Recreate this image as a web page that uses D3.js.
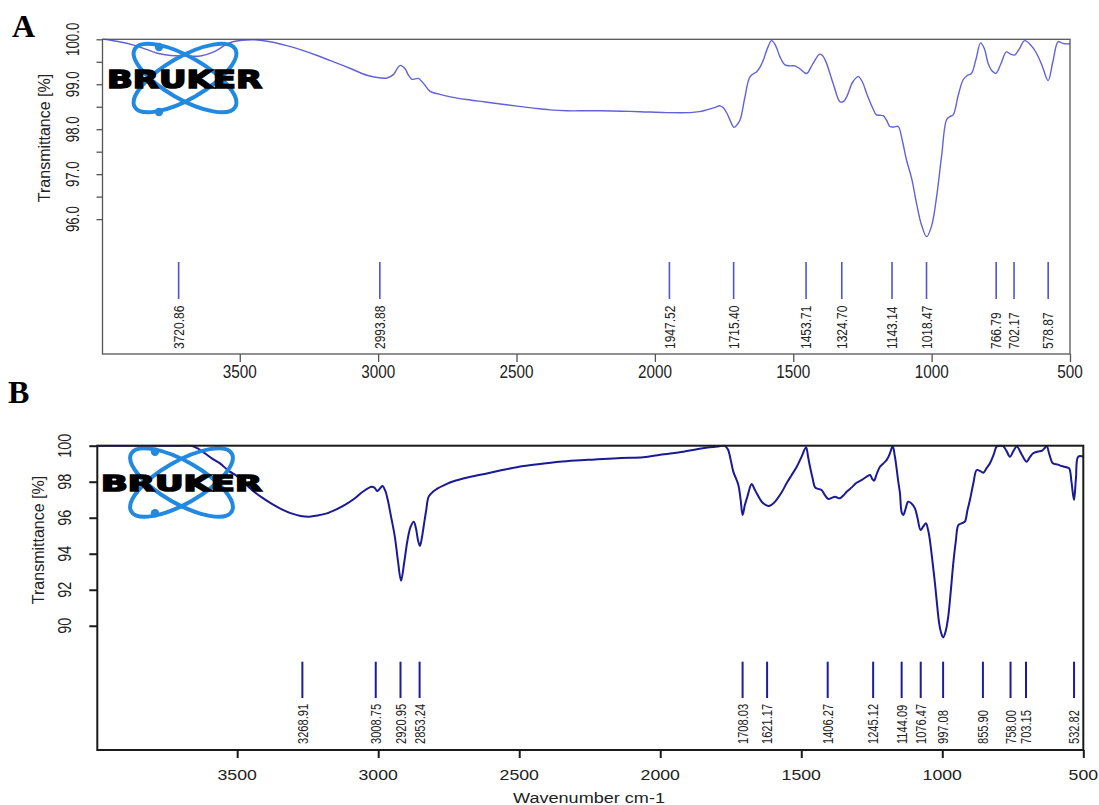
<!DOCTYPE html>
<html>
<head>
<meta charset="utf-8">
<script src="https://cdn.jsdelivr.net/npm/d3@7"></script>
<style>
  html, body { margin: 0; padding: 0; background: #fff; }
  svg { display: block; font-family: "Liberation Sans", Arial, sans-serif; }
</style>
</head>
<body>
<svg id="chart" width="1099" height="805"></svg>
<script>
// FTIR spectrum A: [wavenumber cm-1, transmittance %]
const spectrumA = [
  [3996,100.0],[3991,100.0],[3940,99.95],[3883,99.87],[3840,99.78],[3798,99.69],[3750,99.64],[3702,99.63],
  [3642,99.63],[3594,99.72],[3550,99.88],[3522,99.95],[3449,99.99],[3377,99.93],[3330,99.86],[3281,99.77],
  [3220,99.64],[3161,99.50],[3100,99.35],[3040,99.20],[2990,99.14],[2968,99.14],[2944,99.22],[2930,99.36],
  [2920,99.42],[2910,99.39],[2902,99.34],[2890,99.20],[2878,99.11],[2866,99.12],[2854,99.13],[2844,99.07],
  [2836,99.02],[2812,98.84],[2780,98.78],[2739,98.72],[2680,98.66],[2619,98.61],[2530,98.54],[2439,98.47],
  [2380,98.43],[2318,98.41],[2250,98.41],[2198,98.41],[2120,98.40],[2053,98.39],[1960,98.37],[1873,98.37],
  [1840,98.39],[1813,98.43],[1785,98.48],[1765,98.52],[1752,98.47],[1740,98.36],[1727,98.18],[1714,98.04],
  [1703,98.10],[1692,98.21],[1675,98.70],[1656,99.17],[1632,99.28],[1620,99.38],[1608,99.54],[1592,99.82],
  [1578,99.97],[1563,99.85],[1548,99.61],[1530,99.43],[1510,99.41],[1494,99.41],[1475,99.34],[1452,99.24],
  [1430,99.45],[1404,99.67],[1392,99.62],[1380,99.47],[1355,99.00],[1331,98.61],[1318,98.62],[1307,98.72],
  [1285,99.05],[1265,99.17],[1250,99.05],[1235,98.80],[1215,98.50],[1199,98.32],[1187,98.31],[1175,98.30],
  [1163,98.20],[1151,98.06],[1136,98.05],[1121,98.06],[1106,97.75],[1091,97.32],[1072,96.90],[1055,96.36],
  [1037,95.88],[1018,95.61],[1000,95.85],[982,96.50],[964,97.40],[946,98.21],[934,98.28],[922,98.32],
  [904,98.75],[886,99.10],[870,99.20],[856,99.24],[840,99.55],[823,99.92],[810,99.80],[796,99.47],
  [782,99.30],[768,99.24],[750,99.45],[730,99.72],[715,99.67],[700,99.65],[682,99.80],[664,99.97],
  [643,99.88],[621,99.69],[600,99.40],[579,99.08],[562,99.50],[543,99.95],[530,99.92],[519,99.90],[500,99.90]
];

// FTIR spectrum B: [wavenumber cm-1, transmittance %]
const spectrumB = [
  [3996,100],[3900,100],[3800,100],[3700,100],[3663,100],[3640,99.85],[3625,99.70],[3590,99.30],
  [3561,99.02],[3530,98.60],[3498,98.28],[3448,97.54],[3410,97.10],[3371,96.71],[3340,96.45],[3308,96.24],
  [3275,96.10],[3245,96.06],[3215,96.12],[3182,96.24],[3150,96.45],[3118,96.71],[3085,97.05],[3055,97.44],
  [3023,97.72],[3012,97.65],[3004,97.48],[2995,97.60],[2985,97.76],[2975,97.50],[2966,96.98],[2955,96.10],
  [2941,94.94],[2930,93.60],[2919,92.50],[2908,93.50],[2896,94.76],[2885,95.50],[2874,95.78],[2866,95.40],
  [2859,94.76],[2852,94.43],[2845,94.90],[2839,95.50],[2830,96.40],[2821,97.17],[2805,97.45],[2789,97.63],
  [2760,97.85],[2738,98.00],[2680,98.25],[2611,98.47],[2550,98.68],[2485,98.87],[2420,99.00],[2358,99.11],
  [2300,99.18],[2232,99.24],[2140,99.32],[2060,99.36],[2000,99.50],[1918,99.67],[1870,99.80],[1824,99.91],
  [1790,99.97],[1771,100],[1765,99.90],[1759,99.76],[1750,99.20],[1741,98.56],[1723,97.82],[1715,97.00],
  [1708,96.15],[1700,96.70],[1691,97.17],[1676,97.87],[1666,97.60],[1658,97.36],[1645,97.00],[1635,96.80],
  [1617,96.65],[1605,96.72],[1593,96.89],[1570,97.40],[1552,97.91],[1535,98.35],[1516,98.83],[1500,99.35],
  [1483,99.91],[1476,99.40],[1469,98.83],[1460,98.20],[1451,97.69],[1440,97.60],[1428,97.54],[1416,97.25],
  [1404,97.04],[1392,97.10],[1380,97.17],[1370,97.10],[1363,97.08],[1350,97.25],[1339,97.44],[1320,97.70],
  [1304,97.94],[1285,98.10],[1268,98.28],[1256,98.37],[1248,98.15],[1242,98.06],[1232,98.45],[1221,98.83],
  [1210,99.00],[1197,99.21],[1185,99.60],[1176,99.98],[1168,99.40],[1162,98.74],[1156,98.00],[1150,97.36],
  [1144,96.30],[1138,96.15],[1130,96.50],[1121,96.89],[1110,96.80],[1097,96.52],[1088,96.00],[1077,95.32],
  [1068,95.50],[1058,95.69],[1050,95.30],[1044,94.76],[1035,93.60],[1026,92.36],[1018,91.10],[1011,90.13],
  [1004,89.60],[997,89.35],[988,89.70],[979,90.50],[970,91.90],[961,93.47],[952,94.70],[943,95.59],
  [930,95.70],[920,95.78],[911,96.40],[902,96.98],[890,97.90],[878,98.65],[866,98.60],[855,98.50],
  [843,98.75],[831,99.02],[818,99.50],[807,99.95],[795,100],[784,99.98],[772,99.70],[760,99.39],
  [748,99.70],[736,99.95],[718,99.50],[701,99.11],[690,99.35],[678,99.58],[660,99.68],[647,99.72],
  [638,99.85],[630,99.98],[620,99.50],[608,99.02],[590,98.95],[577,98.87],[560,98.80],[550,98.74],
  [542,98.00],[533,96.98],[526,98.20],[518,99.39],[500,99.40]
];

// Picked peak positions (cm-1)
const peaksA = [3720.86, 2993.88, 1947.52, 1715.40, 1453.71, 1324.70, 1143.14, 1018.47, 766.79, 702.17, 578.87];
const peaksB = [3268.91, 3008.75, 2920.95, 2853.24, 1708.03, 1621.17, 1406.27, 1245.12, 1144.09, 1076.47, 997.08, 855.90, 758.00, 703.15, 532.82];

// Axis ticks
const xTicks = [3500, 3000, 2500, 2000, 1500, 1000, 500];
const yTicksA = [96.0, 96.5, 97.0, 97.5, 98.0, 98.5, 99.0, 99.5, 100.0];
const yLabelsA = [96.0, 97.0, 98.0, 99.0, 100.0];
const yTicksB = [90, 92, 94, 96, 98, 100];

const svg = d3.select("#chart");

function drawLogo(g, cx, cy, textLeft, textWidth, textBase, fontSize, dot1, dot2) {
  const blue = "#2189e0";
  [30, -30].forEach(a => {
    g.append("ellipse")
      .attr("cx", cx).attr("cy", cy).attr("rx", 58).attr("ry", 21)
      .attr("transform", `rotate(${a},${cx},${cy})`)
      .attr("fill", "none").attr("stroke", blue).attr("stroke-width", 4);
  });
  [dot1, dot2].forEach(d => {
    g.append("circle").attr("cx", d[0]).attr("cy", d[1]).attr("r", 4.2).attr("fill", blue);
  });
  g.append("text")
    .attr("x", textLeft).attr("y", textBase)
    .attr("textLength", textWidth).attr("lengthAdjust", "spacingAndGlyphs")
    .style("font-family", "'DejaVu Sans', sans-serif")
    .style("font-weight", "bold")
    .style("font-size", fontSize + "px")
    .attr("fill", "#000").attr("stroke", "#000").attr("stroke-width", 1.6)
    .text("BRUKER");
}

function drawPanel(cfg) {
  const g = svg.append("g");
  const x = d3.scaleLinear().domain([3996, 500]).range([cfg.left, cfg.right]);
  const y = d3.scaleLinear().domain(cfg.yDomain).range([cfg.bottom, cfg.top]);

  const clipId = "clip-" + cfg.name;
  svg.append("clipPath").attr("id", clipId)
    .append("rect").attr("x", cfg.left).attr("y", cfg.top - 1)
    .attr("width", cfg.right - cfg.left).attr("height", cfg.bottom - cfg.top + 1);

  // Spectrum trace
  const line = d3.line()
    .x(d => x(d[0])).y(d => y(d[1]))
    .curve(d3.curveCatmullRom.alpha(0.5));
  g.append("path")
    .datum(cfg.spectrum)
    .attr("clip-path", `url(#${clipId})`)
    .attr("fill", "none")
    .attr("stroke", cfg.lineColor)
    .attr("stroke-width", cfg.lineWidth)
    .attr("stroke-linejoin", "round")
    .attr("d", line);

  // Logo drawn over the trace
  drawLogo(g, ...cfg.logo);

  // Peak markers and labels
  const pk = g.append("g");
  pk.selectAll("line").data(cfg.peaks).join("line")
    .attr("x1", d => x(d)).attr("x2", d => x(d))
    .attr("y1", cfg.peakTop).attr("y2", cfg.peakBottom)
    .attr("stroke", cfg.peakColor).attr("stroke-width", cfg.peakWidth);
  pk.selectAll("text").data(cfg.peaks).join("text")
    .attr("transform", d => `translate(${x(d)},${cfg.peakLabelBase}) rotate(-90) scale(${cfg.peakLabelScale},1)`)
    .attr("dy", "0.35em")
    .style("font-size", cfg.peakLabelSize + "px")
    .attr("fill", "#222")
    .text(d => d.toFixed(2));

  // Frame
  g.append("rect")
    .attr("x", cfg.left).attr("y", cfg.top)
    .attr("width", cfg.right - cfg.left).attr("height", cfg.bottom - cfg.top)
    .attr("fill", "none").attr("stroke", cfg.frameColor).attr("stroke-width", cfg.frameWidth);

  // Bottom axis
  const xAxis = d3.axisBottom(x).tickValues(xTicks).tickSize(cfg.xTickLen).tickFormat("");
  const gx = g.append("g").attr("transform", `translate(0,${cfg.bottom})`).call(xAxis);
  gx.select(".domain").remove();
  gx.selectAll(".tick line").attr("stroke", cfg.frameColor).attr("stroke-width", cfg.frameWidth);
  g.selectAll(null).data(xTicks).join("text")
    .attr("transform", d => `translate(${x(d)},${cfg.xLabelY}) scale(${cfg.xLabelScale},1)`)
    .attr("text-anchor", "middle").attr("dy", "0.35em")
    .style("font-size", cfg.xLabelSize + "px")
    .attr("fill", "#222")
    .text(d => d);

  // Left axis
  const yAxis = d3.axisLeft(y).tickValues(cfg.yTicks).tickSize(cfg.yTickLen).tickFormat("");
  const gy = g.append("g").attr("transform", `translate(${cfg.left},0)`).call(yAxis);
  gy.select(".domain").remove();
  gy.selectAll(".tick line").attr("stroke", cfg.frameColor).attr("stroke-width", cfg.frameWidth);
  g.selectAll(null).data(cfg.yLabels).join("text")
    .attr("transform", d => `translate(${cfg.yLabelX},${y(d)}) rotate(-90) scale(${cfg.yLabelScale},1)`)
    .attr("text-anchor", "middle").attr("dy", "0.35em")
    .style("font-size", cfg.yLabelSize + "px")
    .attr("fill", "#222")
    .text(d => cfg.yFormat(d));

  // Axis title
  g.append("text")
    .attr("transform", `translate(${cfg.titleX},${cfg.titleY}) rotate(-90)`)
    .attr("text-anchor", "middle").attr("dy", "0.35em")
    .style("font-size", "16px").attr("fill", "#222")
    .text("Transmittance [%]");

  // Panel letter
  g.append("text")
    .attr("x", cfg.letterX).attr("y", cfg.letterY)
    .style("font-family", "'Liberation Serif', 'Times New Roman', serif")
    .style("font-weight", "bold").style("font-size", "32px")
    .attr("fill", "#000")
    .text(cfg.name);

  return x;
}

drawPanel({
  name: "A", spectrum: spectrumA, peaks: peaksA,
  left: 102.5, right: 1070, top: 39.3, bottom: 354, yDomain: [93.0, 100],
  lineColor: "#6262d8", lineWidth: 1.4,
  peakColor: "#5252d2", peakWidth: 1.6, peakTop: 262, peakBottom: 299,
  peakLabelBase: 349, peakLabelScale: 0.8, peakLabelSize: 15,
  frameColor: "#555", frameWidth: 1.3,
  xTickLen: 8, xLabelY: 372, xLabelScale: 0.85, xLabelSize: 18,
  yTicks: yTicksA, yLabels: yLabelsA, yTickLen: 6, yLabelX: 72.5, yLabelScale: 0.7, yLabelSize: 19,
  yFormat: d => d.toFixed(1),
  titleX: 44.5, titleY: 138,
  letterX: 12, letterY: 37,
  logo: [185, 78, 107, 155, 88, 25, [159, 47], [159, 112]]
});

const xB = drawPanel({
  name: "B", spectrum: spectrumB, peaks: peaksB,
  left: 97.3, right: 1083.3, top: 445.7, bottom: 750, yDomain: [83.1, 100],
  lineColor: "#1a1a96", lineWidth: 2,
  peakColor: "#1c1c9c", peakWidth: 2, peakTop: 661.7, peakBottom: 698,
  peakLabelBase: 744, peakLabelScale: 0.74, peakLabelSize: 15,
  frameColor: "#1a1a1a", frameWidth: 2,
  xTickLen: 8, xLabelY: 775, xLabelScale: 1.18, xLabelSize: 15,
  yTicks: yTicksB, yLabels: yTicksB, yTickLen: 8, yLabelX: 65, yLabelScale: 0.8, yLabelSize: 18,
  yFormat: d => d,
  titleX: 38.5, titleY: 540,
  letterX: 8, letterY: 403,
  logo: [181.5, 482.5, 101, 161, 491, 22, [155, 451.7], [155, 513.3]]
});

// Bottom axis title
svg.append("text")
  .attr("x", 589).attr("y", 798)
  .attr("text-anchor", "middle").attr("dy", "0.35em")
  .attr("textLength", 152).attr("lengthAdjust", "spacingAndGlyphs")
  .style("font-size", "14px").attr("fill", "#222")
  .text("Wavenumber cm-1");
</script>
</body>
</html>
